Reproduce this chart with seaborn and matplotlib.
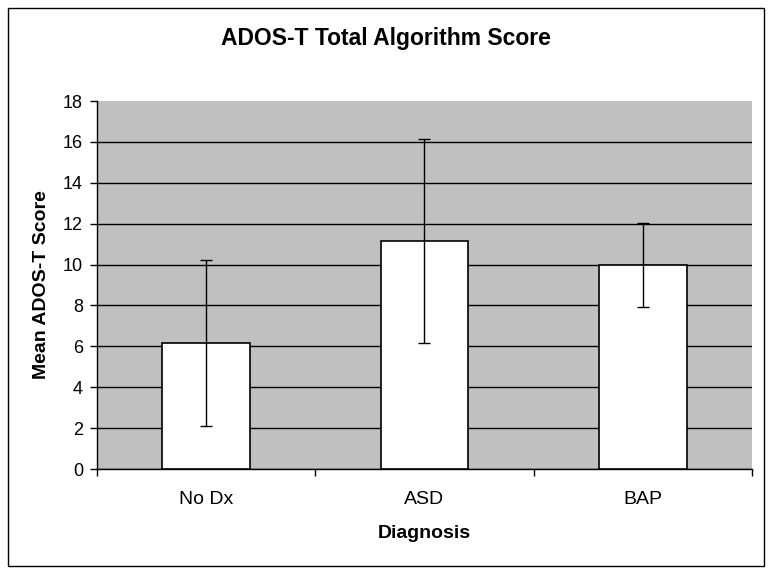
import seaborn as sns
import matplotlib.pyplot as plt
from matplotlib.patches import Rectangle

groups = ["No Dx", "ASD", "BAP"]
mean_scores = [6.16, 11.15, 9.98]
score_errors = [4.06, 4.98, 2.07]

sns.set_style("white")
plt.rcParams['font.family'] = ['Liberation Sans', 'DejaVu Sans']
plt.rcParams['text.color'] = 'black'
plt.rcParams['axes.labelcolor'] = 'black'
plt.rcParams['xtick.color'] = 'black'
plt.rcParams['ytick.color'] = 'black'

fig = plt.figure(figsize=(7.72, 5.74), dpi=100)
ax = fig.add_axes([0.1256, 0.1829, 0.8485, 0.641])
ax.set_facecolor("#C0C0C0")

sns.barplot(x=groups, y=mean_scores, color="white", edgecolor="black",
            linewidth=1.2, width=0.4, saturation=1, ax=ax, zorder=3)
ax.errorbar(range(len(groups)), mean_scores, yerr=score_errors, fmt="none",
            ecolor="black", elinewidth=1, capsize=4, capthick=1, zorder=4)

ax.set_ylim(0, 18)
ax.set_xlim(-0.5, 2.5)
ax.set_yticks(range(0, 19, 2))
ax.yaxis.grid(True, color="black", linewidth=1)
ax.set_axisbelow(True)
# no black line along the top of the plot area
ax.get_ygridlines()[-1].set_visible(False)

for side in ["top", "right"]:
    ax.spines[side].set_visible(False)
ax.spines["left"].set_color("black")
ax.spines["bottom"].set_color("black")
ax.spines["left"].set_linewidth(1)
ax.spines["bottom"].set_linewidth(1)

ax.tick_params(axis="y", direction="out", length=5, width=1, color="black",
               labelsize=13, left=True, pad=5)
ax.tick_params(axis="x", which="major", length=0, labelsize=14, pad=15.5)
ax.set_xticks([-0.5, 0.5, 1.5, 2.5], minor=True)
ax.tick_params(axis="x", which="minor", direction="out", length=5, width=1,
               color="black", bottom=True)

ax.set_xlabel("Diagnosis", fontsize=14, fontweight="bold", labelpad=12.5)
ax.set_ylabel("Mean ADOS-T Score", fontsize=14, fontweight="bold", labelpad=9)
fig.text(0.5, 1 - 45 / 574, "ADOS-T Total Algorithm Score", ha="center",
         va="baseline", fontsize=16.5, fontweight="bold")

# outer frame around the whole chart
fig.patches.append(Rectangle((8 / 772, 8 / 574), 756 / 772, 558 / 574,
                             transform=fig.transFigure, fill=False,
                             edgecolor="black", linewidth=1))

plt.savefig("out.png", dpi=100)
